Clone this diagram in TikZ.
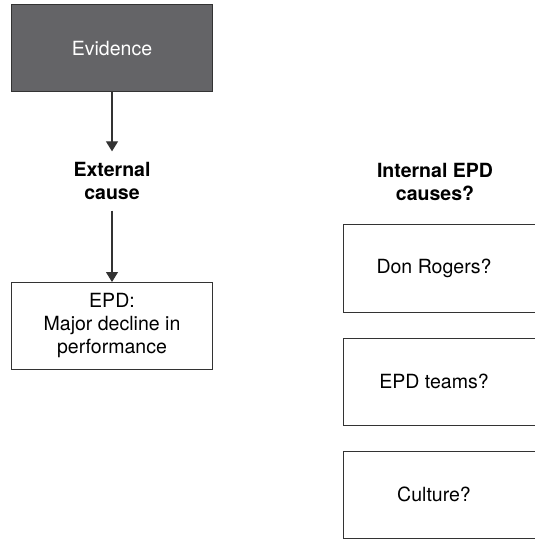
\documentclass[tikz,border=0pt]{standalone}
\usepackage{fontspec}
\setmainfont{TeX Gyre Heros}
\usetikzlibrary{arrows.meta,positioning}
\definecolor{evgray}{HTML}{646467}
\definecolor{linegray}{HTML}{333333}

\begin{document}
\begin{tikzpicture}[
  x=1bp, y=-1bp,
  node distance=26bp,
  box/.style={draw=linegray, line width=1bp, minimum width=200bp, minimum height=87bp, font=\fontsize{19.6}{23.5}\selectfont, align=center, inner sep=0pt, outer sep=0pt},
  evid/.style={box, fill=evgray, text=white},
  head/.style={font=\fontsize{19.6}{23}\selectfont\bfseries, align=center, inner xsep=0pt, inner ysep=11bp, outer sep=0pt},
  arr/.style={draw=linegray, line width=1.2bp, -{Triangle[length=10bp,width=12bp]}}
]
  \clip (0,0) rectangle (535,539);

  % left column
  \node[evid] (ev) at (112,48.5) {Evidence};
  \node[head] (ext) at (112,181) {External\\cause};
  \node[box] (epd) at (112,325.5) {EPD:\\Major decline in\\performance};

  % right column, boxes run off the page
  \node[head] (int) at (435,182) {Internal EPD\\causes?};
  \node[box] (don) at (443,268.5) {\hspace*{-18bp}Don Rogers?};
  \node[box, below=of don] (teams) {\hspace*{-18bp}EPD teams?};
  \node[box, below=of teams] (cult) {\hspace*{-18bp}Culture?};

  \draw[arr] (ev) -- (ext);
  \draw[arr] (ext) -- (epd);
\end{tikzpicture}
\end{document}
